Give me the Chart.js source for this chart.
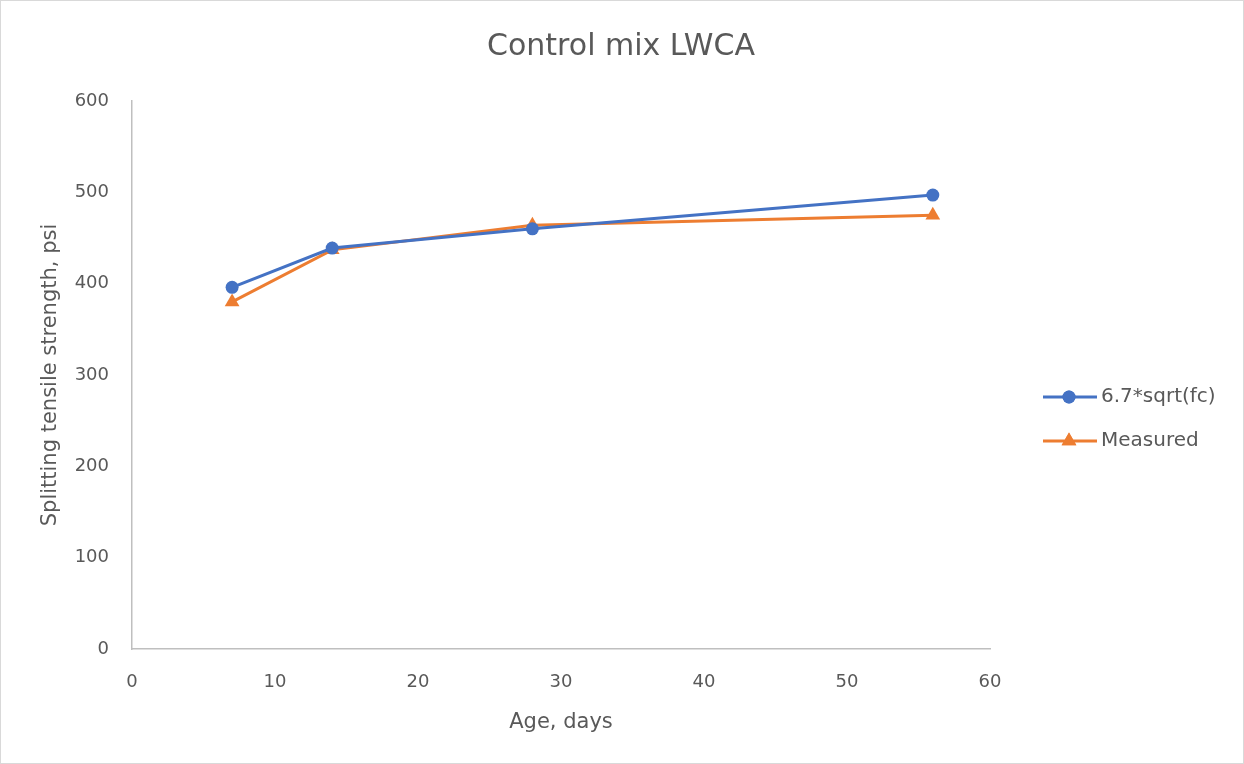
<!DOCTYPE html>
<html>
<head>
<meta charset="utf-8">
<script src="https://cdn.jsdelivr.net/npm/chart.js@4"></script>
<style>
  html, body { margin: 0; padding: 0; background: #fff; }
  #wrap { position: relative; width: 1242px; height: 762px; border: 1px solid #d9d9d9; }
</style>
</head>
<body>
<div id="wrap"><canvas id="chart-lwca" width="1242" height="762"></canvas></div>
<script>
const ages = [7, 14, 28, 56];
const predicted = [396, 439, 460, 497];
const measured = [380, 437, 464, 475];
const seriesNames = ["6.7*sqrt(fc)", "Measured"];
const chartTitle = "Control mix LWCA";

const textColor = "#595959";
const fontFamily = "'DejaVu Sans', sans-serif";

// title centred on the whole canvas, like Excel does
const wideTitle = {
  id: "wideTitle",
  afterDraw(chart) {
    const ctx = chart.ctx;
    ctx.save();
    ctx.fillStyle = textColor;
    ctx.font = "30px " + fontFamily;
    ctx.textAlign = "center";
    ctx.textBaseline = "middle";
    ctx.fillText(chartTitle, 620, 46);
    ctx.restore();
  },
};

// legend drawn by hand: Excel style line with marker in the middle
const sideLegend = {
  id: "sideLegend",
  afterDraw(chart) {
    const ctx = chart.ctx;
    const rows = [
      { label: seriesNames[0], color: "#4472C4", style: "circle", r: 6.5, y: 396 },
      { label: seriesNames[1], color: "#ED7D31", style: "triangle", r: 8.5, y: 440 },
    ];
    ctx.save();
    rows.forEach((row) => {
      ctx.strokeStyle = row.color;
      ctx.lineWidth = 3;
      ctx.beginPath();
      ctx.moveTo(1042, row.y);
      ctx.lineTo(1096, row.y);
      ctx.stroke();
      ctx.fillStyle = row.color;
      ctx.beginPath();
      Chart.helpers.drawPoint(ctx, { pointStyle: row.style, radius: row.r, borderWidth: 0 }, 1068, row.y);
      ctx.fill();
      ctx.fillStyle = textColor;
      ctx.font = "20px " + fontFamily;
      ctx.textBaseline = "middle";
      ctx.fillText(row.label, 1100, row.y);
    });
    ctx.restore();
  },
};

new Chart(document.getElementById("chart-lwca"), {
  type: "line",
  data: {
    datasets: [
      {
        label: seriesNames[0],
        data: ages.map((a, i) => ({ x: a, y: predicted[i] })),
        borderColor: "#4472C4",
        backgroundColor: "#4472C4",
        borderWidth: 3,
        pointStyle: "circle",
        pointRadius: 6.5,
        pointBorderWidth: 0,
        tension: 0,
      },
      {
        label: seriesNames[1],
        data: ages.map((a, i) => ({ x: a, y: measured[i] })),
        borderColor: "#ED7D31",
        backgroundColor: "#ED7D31",
        borderWidth: 3,
        pointStyle: "triangle",
        pointRadius: 8.5,
        pointBorderWidth: 0,
        tension: 0,
      },
    ],
  },
  options: {
    responsive: false,
    animation: false,
    layout: { padding: { left: 0, right: 253, top: 100, bottom: 0 } },
    plugins: {
      legend: { display: false },
      tooltip: { enabled: false },
      title: { display: false },
    },
    scales: {
      x: {
        type: "linear",
        min: 0,
        max: 60,
        ticks: { stepSize: 10, color: textColor, padding: 23, font: { family: fontFamily, size: 18 } },
        grid: { display: false, drawTicks: false },
        border: { display: true, color: "#bfbfbf", width: 1.5 },
        title: {
          display: true,
          text: "Age, days",
          color: textColor,
          font: { family: fontFamily, size: 21 },
          padding: { top: 0, bottom: 28 },
        },
        afterFit(scale) { scale.height = 762 - 648; },
      },
      y: {
        min: 0,
        max: 600,
        ticks: { stepSize: 100, color: textColor, padding: 23, font: { family: fontFamily, size: 18 } },
        grid: { display: false, drawTicks: false },
        border: { display: true, color: "#bfbfbf", width: 1.5 },
        title: {
          display: true,
          text: "Splitting tensile strength, psi",
          color: textColor,
          font: { family: fontFamily, size: 21 },
          padding: { top: 37, bottom: 0 },
        },
        afterFit(scale) { scale.width = 131; },
      },
    },
  },
  plugins: [wideTitle, sideLegend],
});
</script>
</body>
</html>
